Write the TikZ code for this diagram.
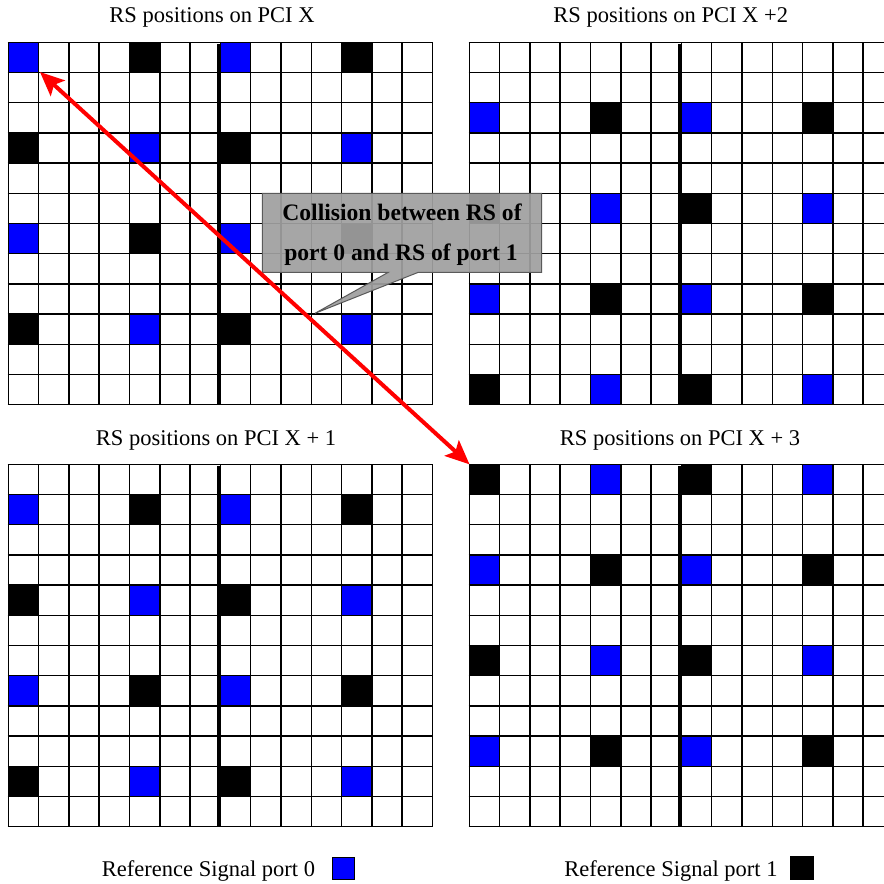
\documentclass[tikz,border=0pt]{standalone}
\usepackage{fontspec}
\setmainfont{Liberation Serif}
\usetikzlibrary{arrows.meta}
\definecolor{rsblue}{RGB}{0,0,255}
\definecolor{cofill}{RGB}{160,160,160}
\definecolor{coline}{RGB}{90,90,90}
\def\cw{30.3}
\def\rh{30.2}
\tikzset{
  gridline/.style={draw=black, line width=1.5pt},
  thickline/.style={draw=black, line width=4pt},
  titletext/.style={anchor=base, inner sep=0pt, font=\fontsize{22.5}{27}\selectfont},
  cotext/.style={anchor=base, inner sep=0pt, font=\fontsize{23.6}{27}\selectfont\bfseries},
  calloutshape/.style={fill=cofill, fill opacity=0.93, draw=coline, line width=1pt},
  redarrow/.style={draw=red, line width=4pt, {Stealth[length=24pt,width=21pt,inset=5pt]}-{Stealth[length=24pt,width=21pt,inset=5pt]}},
  legendbox/.style={draw=black, line width=1pt}
}
\newcommand{\rsgrid}[5]{%
  \begin{scope}[shift={(#1,#2)}]
    \foreach \k in {0,1,2,3}{%
      \pgfmathtruncatemacro\rr{#3+3*\k}%
      \pgfmathtruncatemacro\oddk{mod(\k,2)}%
      \ifnum\oddk=0 \def\ca{#4}\def\cb{#5}\else\def\ca{#5}\def\cb{#4}\fi
      \foreach \c in {0,7}{\fill[\ca] (\c*\cw,\rr*\rh) rectangle ++(\cw,\rh);}
      \foreach \c in {4,11}{\fill[\cb] (\c*\cw,\rr*\rh) rectangle ++(\cw,\rh);}
    }
    \foreach \i in {0,...,14}{\draw[gridline] (\i*\cw,0) -- (\i*\cw,12*\rh);}
    \foreach \j in {0,...,12}{\draw[gridline] (-0.7,\j*\rh) -- (14*\cw+0.7,\j*\rh);}
    \draw[thickline] (7*\cw-1.5,1.7) -- (7*\cw-1.5,12*\rh);
  \end{scope}}
\begin{document}
\begin{tikzpicture}[x=1pt,y=-1pt]
\useasboundingbox (0,0) rectangle (884,884);
\clip (0,0) rectangle (884,884);
\fill[white] (0,0) rectangle (884,884);
% titles
\node[titletext] (t0) at (212,22.5) {RS positions on PCI X};
\node[titletext] (t2) at (670.7,22.5) {RS positions on PCI X +2};
\node[titletext] (t1) at (216,445) {RS positions on PCI X + 1};
\node[titletext] (t3) at (680,445) {RS positions on PCI X + 3};
% grids
\rsgrid{8.3}{42.3}{0}{rsblue}{black}
\rsgrid{469.3}{42.3}{2}{rsblue}{black}
\rsgrid{8.3}{464.3}{1}{rsblue}{black}
\rsgrid{469.3}{464.3}{0}{black}{rsblue}
% callout
\coordinate (cotip) at (315,313.3);
\path[calloutshape] (262.3,193.3) -- (541.7,193.3) -- (541.7,272.3) -- (418.3,272.3)
  -- (cotip) -- (388.3,272.3) -- (262.3,272.3) -- cycle;
\node[cotext] (co1) at (402,220) {Collision between RS of};
\node[cotext] (co2) at (401,260) {port 0 and RS of port 1};
% red double arrow
\coordinate (a0) at (40,72);
\coordinate (a1) at (469.5,464.3);
\draw[redarrow] (a0) -- (a1);
% legend
\node[titletext] (l0) at (208.5,876) {Reference Signal port 0};
\node[legendbox, fill=rsblue, minimum width=21.7pt, minimum height=21.7pt, inner sep=0pt] (lb0) at (343.2,868.2) {};
\node[titletext] (l1) at (671,876) {Reference Signal port 1};
\node[legendbox, fill=black, minimum width=22.6pt, minimum height=22.3pt, inner sep=0pt] (lb1) at (802,867.9) {};
\end{tikzpicture}
\end{document}
